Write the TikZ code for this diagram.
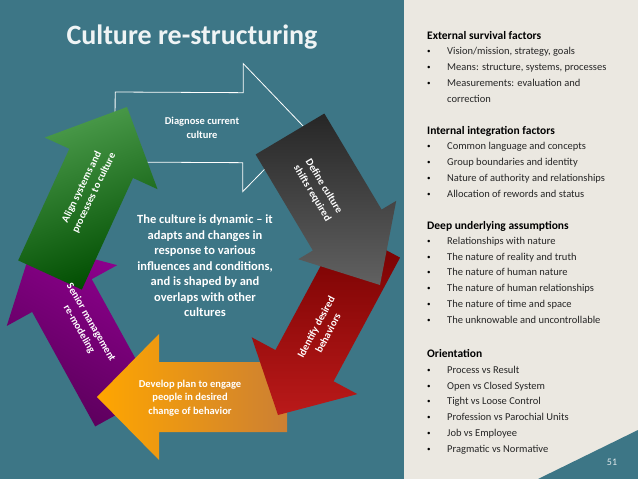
\documentclass[tikz,border=0pt]{standalone}
\usepackage{fontspec}
\setmainfont{Carlito}
\usetikzlibrary{calc}
\definecolor{bg}{HTML}{3D7686}
\definecolor{panel}{HTML}{EBE8E1}
\newcommand\cyarrow[7]{% tail, tip, shaft half, head half, head len, style, name
  \coordinate (#7A) at #1; \coordinate (#7B) at #2;
  \coordinate (#7H) at ($(#7B)!#5pt!(#7A)$);
  \path[#6] ($(#7A)!#3pt!90:(#7B)$) -- ($(#7H)!#3pt!90:(#7B)$) -- ($(#7H)!#4pt!90:(#7B)$) -- (#7B)
     -- ($(#7H)!#4pt!-90:(#7B)$) -- ($(#7H)!#3pt!-90:(#7B)$) -- ($(#7A)!#3pt!-90:(#7B)$) -- cycle;}
\tikzset{lbl/.style={text=white,font=\bfseries\fontsize{10.5}{13.5}\selectfont,align=center,inner sep=0},
 item/.style={anchor=base west,font=\fontsize{10.5}{12}\selectfont,inner sep=0,text=black!85},
 head/.style={anchor=base west,font=\bfseries\fontsize{11.5}{12}\selectfont,inner sep=0},
 bul/.style={anchor=base west,font=\fontsize{7}{8}\selectfont,inner sep=0,yshift=1pt}}
\begin{document}
\begin{tikzpicture}[x=1pt,y=-1pt]
\useasboundingbox (0,0) rectangle (638,479);
\fill[bg] (0,0) rectangle (638,479);
\fill[panel] (404,0) rectangle (638,479);
\fill[bg] (538,479) -- (638,430) -- (638,479) -- cycle;
\node[text=white!85!bg,font=\fontsize{10}{12}\selectfont] (pg) at (612,462) {51};
\node[text=white!92!bg,font=\bfseries\fontsize{28}{30}\selectfont,anchor=base] (title) at (192,45) {Culture re-structuring};
% arrows
\cyarrow{(115,127)}{(305,128)}{35}{64}{62}{fill=bg,draw=white,line width=0.8pt}{t}
\cyarrow{(125,410)}{(33,243)}{34}{63}{60}{top color=violet!60!magenta!80!black,bottom color=violet!70!black,shading angle=-30}{p}
\cyarrow{(287,397)}{(97,397)}{35}{63}{62}{left color=orange!70!yellow,right color=brown!80!orange}{y}
\cyarrow{(371,242)}{(278,415)}{33}{60}{56}{top color=red!45!black,bottom color=red!70!black!90!white}{r}
\cyarrow{(290,134)}{(380,285)}{40}{57}{64}{top color=black!85,bottom color=black!62}{g}
\cyarrow{(50,275)}{(127,107)}{35}{62}{62}{top color=green!45!black!70!white,bottom color=green!30!black,shading angle=20}{a}
% labels
\node[lbl] (l1) at (202,128) {Diagnose current\\culture};
\node[lbl,rotate=-59] (l2) at (318,190) {Define culture\\shifts required};
\node[lbl,rotate=62] (l3) at (322,330) {Identify desired\\behaviors};
\node[lbl] (l4) at (190,398) {Develop plan to engage\\people in desired\\change of behavior};
\node[lbl,rotate=-60] (l5) at (85,326) {Senior management\\re-modeling};
\node[lbl,rotate=64] (l6) at (88,190) {Align systems and\\processes to culture};
\node[text=white,font=\bfseries\fontsize{12.5}{15.5}\selectfont,align=center,inner sep=0] (c) at (205,266)
 {The culture is dynamic -- it\\adapts and changes in\\response to various\\influences and conditions,\\and is shaped by and\\overlaps with other\\cultures};
% right panel
\node[head] (h1) at (427,39) {External survival factors};
\node[bul] at (427,54) {•}; \node[item] at (447,54) {Vision/mission, strategy, goals};
\node[bul] at (427,70) {•}; \node[item] at (447,70) {Means: structure, systems, processes};
\node[bul] at (427,86) {•}; \node[item] at (447,86) {Measurements: evaluation and};
\node[item] at (447,102) {correction};
\node[head] (h2) at (427,134) {Internal integration factors};
\node[bul] at (427,149) {•}; \node[item] at (447,149) {Common language and concepts};
\node[bul] at (427,165) {•}; \node[item] at (447,165) {Group boundaries and identity};
\node[bul] at (427,181) {•}; \node[item] at (447,181) {Nature of authority and relationships};
\node[bul] at (427,197) {•}; \node[item] at (447,197) {Allocation of rewords and status};
\node[head] (h3) at (427,229) {Deep underlying assumptions};
\node[bul] at (427,244) {•}; \node[item] at (447,244) {Relationships with nature};
\node[bul] at (427,260) {•}; \node[item] at (447,260) {The nature of reality and truth};
\node[bul] at (427,275) {•}; \node[item] at (447,275) {The nature of human nature};
\node[bul] at (427,291) {•}; \node[item] at (447,291) {The nature of human relationships};
\node[bul] at (427,307) {•}; \node[item] at (447,307) {The nature of time and space};
\node[bul] at (427,323) {•}; \node[item] at (447,323) {The unknowable and uncontrollable};
\node[head] (h4) at (427,357) {Orientation};
\node[bul] at (427,373) {•}; \node[item] at (447,373) {Process vs Result};
\node[bul] at (427,389) {•}; \node[item] at (447,389) {Open vs Closed System};
\node[bul] at (427,404) {•}; \node[item] at (447,404) {Tight vs Loose Control};
\node[bul] at (427,420) {•}; \node[item] at (447,420) {Profession vs Parochial Units};
\node[bul] at (427,436) {•}; \node[item] at (447,436) {Job vs Employee};
\node[bul] at (427,452) {•}; \node[item] at (447,452) {Pragmatic vs Normative};
\end{tikzpicture}
\end{document}
